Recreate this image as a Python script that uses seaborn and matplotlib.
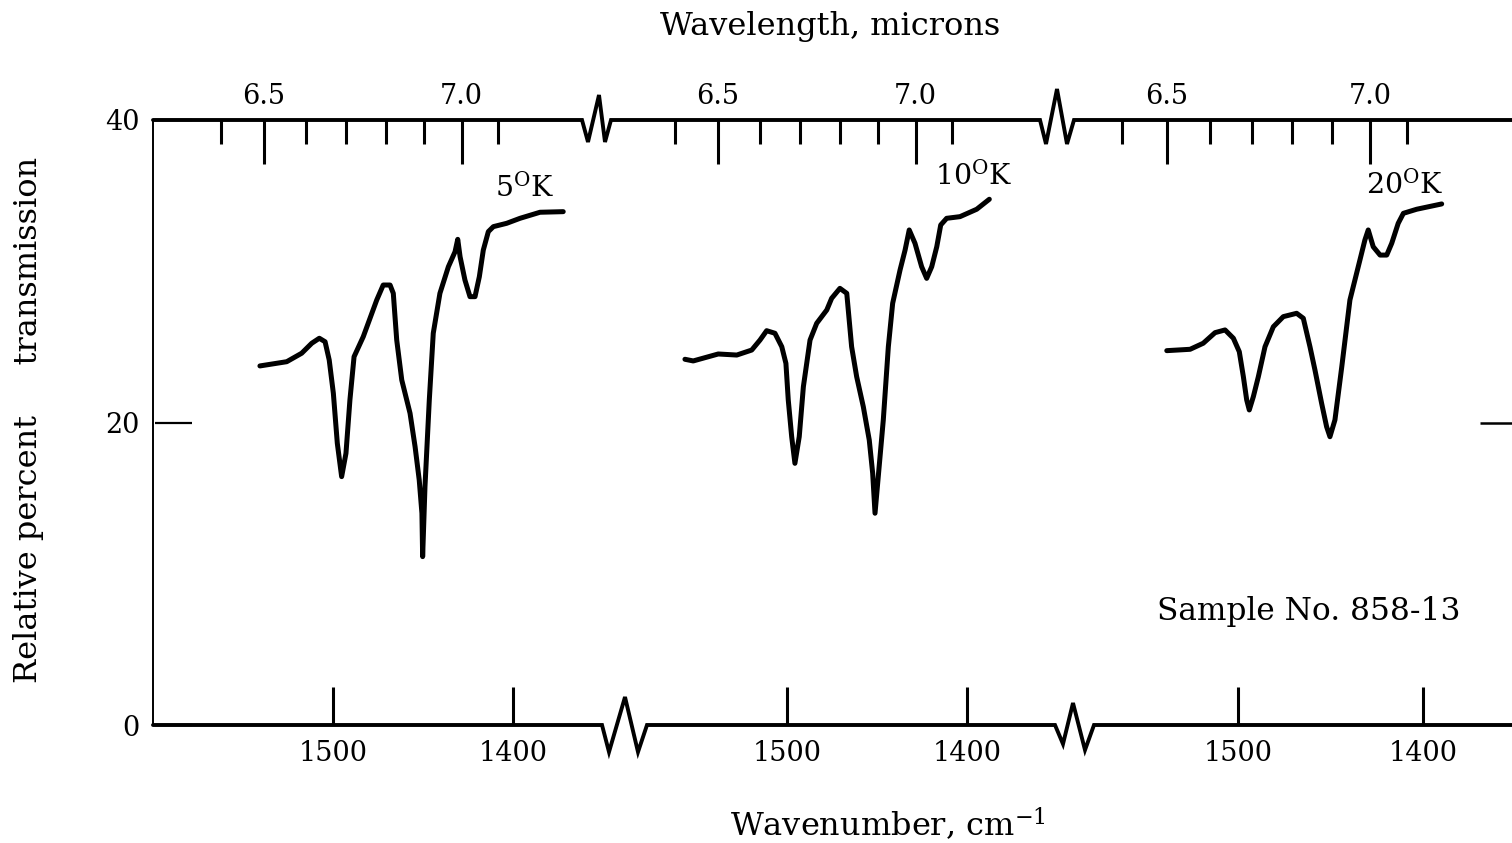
import numpy as np
import pandas as pd
import matplotlib
matplotlib.use("Agg")
import matplotlib.pyplot as plt
import seaborn as sns

# ---------------- data ----------------
wn_5K = [1540.6, 1525.7, 1517.4, 1511.8, 1507.6, 1504.4, 1502.1, 1499.8, 1497.6, 1495.2,
         1492.8, 1490.6, 1488.3, 1483.2, 1475.7, 1472.1, 1468.3, 1466.5, 1464.6, 1461.8,
         1457.2, 1454.4, 1452.1, 1450.6, 1450.2, 1448.9, 1446.5, 1444.3, 1440.6, 1435.9,
         1432.2, 1430.7, 1429.4, 1426.7, 1423.9, 1421.1, 1418.7, 1416.5, 1413.7, 1410.9,
         1403.5, 1396.1, 1385.0, 1372.1]
tr_5K = [23.74, 24.02, 24.58, 25.24, 25.57, 25.34, 24.13, 21.93, 18.62, 16.42,
         17.96, 21.49, 24.35, 25.67, 28.10, 29.09, 29.09, 28.54, 25.45, 22.81,
         20.61, 18.40, 16.20, 14.00, 11.13, 15.76, 21.49, 25.90, 28.54, 30.30,
         31.29, 32.11, 30.96, 29.42, 28.32, 28.32, 29.64, 31.40, 32.62, 32.95,
         33.17, 33.50, 33.90, 33.94]

wn_10K = [1556.7, 1552.1, 1538.2, 1527.9, 1519.6, 1515.0, 1511.3, 1506.7, 1502.9, 1500.6,
          1499.3, 1497.4, 1495.6, 1493.2, 1490.9, 1487.2, 1483.5, 1477.9, 1475.2, 1470.6,
          1466.8, 1464.1, 1461.3, 1457.6, 1454.3, 1452.4, 1451.1, 1449.3, 1446.5, 1443.7,
          1441.3, 1437.2, 1434.4, 1432.1, 1428.9, 1425.2, 1422.4, 1419.6, 1416.8, 1414.6,
          1411.3, 1403.9, 1394.6, 1387.6]
tr_10K = [24.18, 24.07, 24.53, 24.46, 24.79, 25.45, 26.07, 25.90, 25.01, 23.91,
          21.49, 19.06, 17.30, 19.06, 22.37, 25.45, 26.56, 27.44, 28.21, 28.87,
          28.54, 25.01, 23.03, 21.04, 18.84, 16.64, 14.00, 16.42, 20.17, 25.01,
          27.88, 30.08, 31.40, 32.73, 31.85, 30.30, 29.53, 30.30, 31.62, 33.06,
          33.50, 33.61, 34.10, 34.76]

wn_20K = [1538.5, 1525.9, 1518.8, 1512.4, 1507.0, 1502.5, 1499.3, 1497.1, 1495.3, 1493.9,
          1491.7, 1489.0, 1485.4, 1480.9, 1475.5, 1468.3, 1464.7, 1461.1, 1458.4, 1454.8,
          1452.1, 1450.3, 1447.6, 1443.9, 1439.5, 1434.1, 1431.4, 1429.6, 1426.9, 1423.2,
          1419.6, 1416.9, 1413.4, 1410.6, 1403.4, 1389.9]
tr_20K = [24.75, 24.84, 25.24, 25.94, 26.12, 25.57, 24.68, 23.03, 21.49, 20.83,
          21.71, 23.03, 25.01, 26.33, 27.00, 27.22, 26.89, 25.01, 23.47, 21.27,
          19.72, 19.06, 20.17, 23.69, 28.10, 30.74, 32.07, 32.73, 31.62, 31.07,
          31.07, 31.85, 33.17, 33.83, 34.10, 34.45]

temp_labels = ["5$^{\\mathrm{O}}$K", "10$^{\\mathrm{O}}$K", "20$^{\\mathrm{O}}$K"]
wn_ticks = [1500, 1400]
wl_major = [6.5, 7.0]
wl_minor = [6.4, 6.6, 6.7, 6.8, 6.9, 7.1]
y_ticks = [0, 20, 40]
sample_text = "Sample No. 858-13"

# ---------------- style ----------------
sns.set_theme(style="white")
plt.rcParams["font.family"] = ["DejaVu Serif"]
plt.rcParams["mathtext.fontset"] = "dejavuserif"
for k in ["text.color", "axes.labelcolor", "xtick.color", "ytick.color", "axes.edgecolor"]:
    plt.rcParams[k] = "black"

W, H = 1512, 843
fig = plt.figure(figsize=(W / 100, H / 100), dpi=100)
fig.patch.set_facecolor("white")

Y_TOP, Y_BOT = 120, 725
# (left px, right px, px of 1500 cm-1, px per cm-1)
panels = [(155, 610, 333, 1.80), (610, 1065, 787, 1.80), (1065, 1512, 1238, 1.85)]
series = [(wn_5K, tr_5K), (wn_10K, tr_10K), (wn_20K, tr_20K)]
label_pos = [(1410, 35.5), (1418, 36.3), (1431, 35.7)]

# overlay for broken axis frame lines
ov = fig.add_axes([0, 0, 1, 1])
ov.set_xlim(0, W)
ov.set_ylim(H, 0)
ov.axis("off")
ov.patch.set_alpha(0)
top_x = [153, 582, 588, 599, 605, 611, 1040, 1046, 1057, 1067, 1074, 1512]
top_y = [120, 120, 142, 95, 142, 120, 120, 144, 89, 144, 120, 120]
bot_x = [153, 602, 609, 625, 638, 647, 1055, 1063, 1073, 1085, 1094, 1512]
bot_y = [725, 725, 752, 697, 752, 725, 725, 744, 703, 750, 725, 725]
ov.plot(top_x, top_y, color="black", lw=2.8, solid_joinstyle="miter")
ov.plot(bot_x, bot_y, color="black", lw=2.8, solid_joinstyle="miter")
ov.plot([153, 153], [120, 725], color="black", lw=1.4)

FS = 19.5
axes = []
for i, ((L, R, p15, s), (wx, ty)) in enumerate(zip(panels, series)):
    ax = fig.add_axes([L / W, (H - Y_BOT) / H, (R - L) / W, (Y_BOT - Y_TOP) / H])
    ax.patch.set_alpha(0)
    df = pd.DataFrame({"wn": wx, "T": ty})
    sns.lineplot(data=df, x="wn", y="T", sort=False, estimator=None, ax=ax,
                 color="black", lw=3.6, solid_capstyle="round", solid_joinstyle="round")
    ax.set_xlim(1500 + (p15 - L) / s, 1500 - (R - p15) / s)
    ax.set_ylim(0, 40)
    for sp in ax.spines.values():
        sp.set_visible(False)
    ax.set_xlabel("")
    ax.set_ylabel("")
    ax.set_xticks(wn_ticks)
    ax.set_xticklabels([str(t) for t in wn_ticks])
    ax.tick_params(axis="x", which="major", direction="in", length=27.5, width=2.2,
                   pad=11, labelsize=FS, colors="black", bottom=True)
    if i == 0:
        ax.set_yticks(y_ticks)
        ax.set_yticklabels([str(t) for t in y_ticks])
        ax.tick_params(axis="y", direction="in", length=26.5, width=1.6, pad=11,
                       labelsize=FS, left=True, right=False, colors="black")
    elif i == 2:
        ax.set_yticks([20])
        ax.tick_params(axis="y", direction="in", length=23, width=1.8, colors="black",
                       left=False, right=True, labelleft=False, labelright=False)
    else:
        ax.set_yticks([])

    sec = ax.secondary_xaxis("top", functions=(lambda x: 1e4 / x, lambda x: 1e4 / x))
    sec.set_xticks(wl_major)
    sec.set_xticklabels([f"{v:.1f}" for v in wl_major])
    sec.set_xticks(wl_minor, minor=True)
    for sp in sec.spines.values():
        sp.set_visible(False)
    sec.tick_params(axis="x", which="major", direction="in", length=31.5, width=2.2,
                    pad=7, labelsize=FS, top=True, colors="black")
    sec.tick_params(axis="x", which="minor", direction="in", length=17.5, width=2.2,
                    top=True, colors="black")

    lx, ly = label_pos[i]
    ax.text(lx, ly, temp_labels[i], ha="left", va="center", fontsize=20.5)
    axes.append(ax)

axes[2].text(1544, 7.5, sample_text, ha="left", va="center", fontsize=22.5)

fig.text(830 / W, 1 - 27 / H, "Wavelength, microns", ha="center", va="center", fontsize=23)
fig.text(888 / W, 1 - 825 / H, "Wavenumber, cm$^{-1}$", ha="center", va="center", fontsize=23)
fig.text(29 / W, 1 - 420 / H, "Relative percent     transmission", ha="center", va="center",
         rotation=90, fontsize=23)

fig.savefig("out.png", dpi=100, facecolor="white")
